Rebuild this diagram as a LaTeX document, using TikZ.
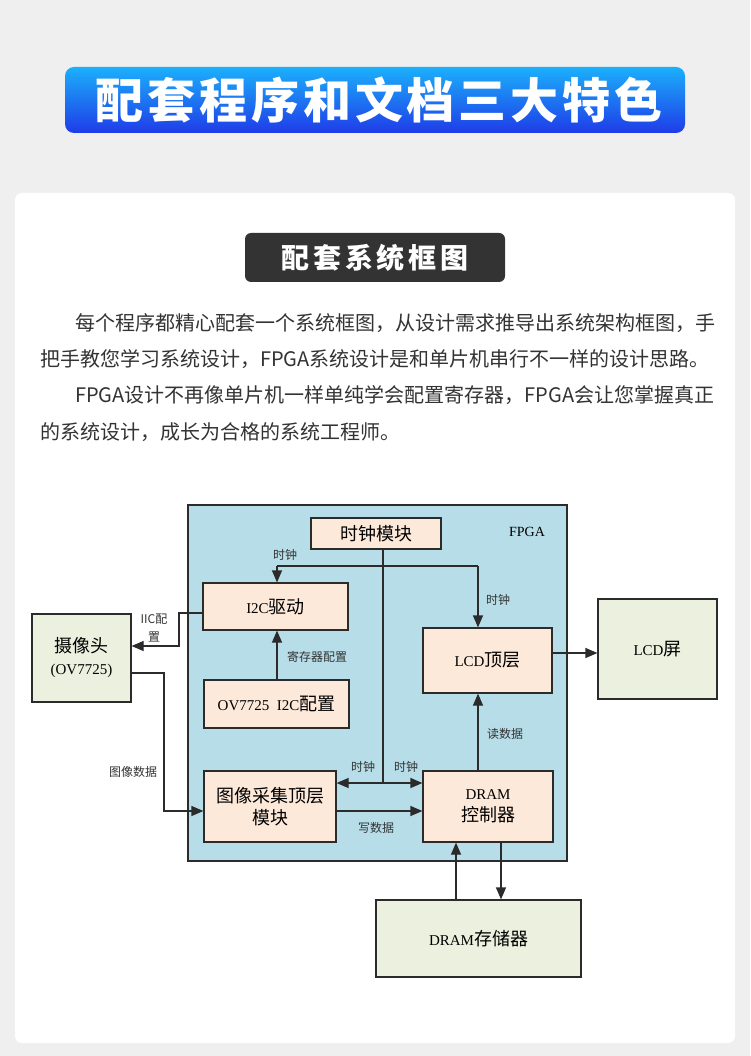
\documentclass[tikz,border=0pt]{standalone}
\usepackage{fontspec}
\setmainfont{Liberation Serif}
\newfontfamily\cjk[Scale=1.2]{Noto Sans CJK SC}
\newfontfamily\cjkbody{Noto Sans CJK SC}
\newcommand{\zh}[1]{{\cjk #1}}
\usetikzlibrary{positioning,arrows.meta}
\definecolor{pagebg}{HTML}{EFEFEF}
\definecolor{titletop}{HTML}{1BB0FB}
\definecolor{titlebot}{HTML}{1F3BE8}
\definecolor{darkbar}{HTML}{333333}
\definecolor{bodytext}{HTML}{333333}
\definecolor{fpgablue}{HTML}{B6DDE8}
\definecolor{peach}{HTML}{FDE9D9}
\definecolor{sage}{HTML}{EBF1DE}
\definecolor{linec}{HTML}{2B2B2B}

\begin{document}
\begin{tikzpicture}[x=1pt,y=-1pt,>={Triangle[length=12pt,width=10pt]},
  inner/.style={draw=linec,line width=1.2pt,fill=peach,inner sep=1pt,align=center,
    font=\fontsize{15}{22}\selectfont},
  outer/.style={inner,fill=sage},
  wire/.style={draw=linec,line width=1.2pt},
  sig/.style={wire,->},
  lbl/.style={font=\cjk\fontsize{10}{18}\selectfont,text=darkbar,align=center,inner sep=0pt},
  para/.style={anchor=west,inner sep=0pt,text=bodytext,font=\cjkbody\fontsize{20}{24}\selectfont}]

  \fill[pagebg] (0,0) rectangle (750,1056);
  \useasboundingbox (0,0) rectangle (750,1056);
  \fill[white,rounded corners=7pt] (15,193) rectangle (735,1043);

  % heading
  \node[rounded corners=9pt,top color=titletop,bottom color=titlebot,
        minimum width=620pt,minimum height=66pt] (title) at (375,100) {};
  \node[text=white,inner sep=0pt,
        font=\cjkbody\bfseries\fontsize{48}{50}\selectfont\addfontfeatures{LetterSpace=8}]
    (titletext) at (379,100) {配套程序和文档三大特色};
  \node[rounded corners=6pt,fill=darkbar,minimum width=260pt,minimum height=49pt,text=white,
        font=\cjkbody\bfseries\fontsize{28}{30}\selectfont\addfontfeatures{LetterSpace=13}]
    (sub) at (375,257.5) {配套系统框图};

  \node[para] (p1) at (75,323) {每个程序都精心配套一个系统框图，从设计需求推导出系统架构框图，手};
  \node[para] (p2) at (40,359) {把手教您学习系统设计，FPGA系统设计是和单片机串行不一样的设计思路。};
  \node[para] (p3) at (75,395) {FPGA设计不再像单片机一样单纯学会配置寄存器，FPGA会让您掌握真正};
  \node[para] (p4) at (40,432) {的系统设计，成长为合格的系统工程师。};

  % block diagram
  \node[draw=linec,line width=1.2pt,fill=fpgablue,minimum width=379pt,minimum height=356pt,
        inner sep=0pt] (fpga) at (377.5,683) {};
  \node[font=\fontsize{14}{16}\selectfont] (fpgalbl) at (527,532) {FPGA};

  \node[inner,minimum width=130pt,minimum height=31pt] (clk) at (376,533.5) {\zh{时钟模块}};
  \node[inner,minimum width=145pt,minimum height=47pt] (i2c) at (275.5,606.5) {I2C\zh{驱动}};
  \node[inner,minimum width=145pt,minimum height=48pt] (cfg) at (276.5,704) {OV7725\ \ I2C\zh{配置}};
  \node[inner,minimum width=132pt,minimum height=71pt] (cap) at (270,806.5) {\zh{图像采集顶层}\\\zh{模块}};
  \node[inner,minimum width=130pt,minimum height=71pt] (ctrl) at (488,806.5) {DRAM\\\zh{控制器}};
  \node[inner,minimum width=129pt,minimum height=65pt] (lcdtop) at (487.5,660.5) {LCD\zh{顶层}};
  \node[outer,minimum width=99pt,minimum height=88pt] (cam) at (81.5,658) {\zh{摄像头}\\(OV7725)};
  \node[outer,minimum width=119pt,minimum height=100pt] (lcd) at (657.5,649) {LCD\zh{屏}};
  \node[outer,minimum width=205pt,minimum height=77pt] (dram) at (478.5,938.5) {DRAM\zh{存储器}};

  \coordinate (ck) at (383,566);
  \coordinate (ckl) at (277,566);
  \coordinate (ckr) at (478,566);
  \coordinate (ckbus) at (383,783);
  \coordinate (wr) at (380,811);
  \coordinate (lo) at (575,653);
  \coordinate (iicA) at (179,613);
  \coordinate (iicB) at (179,646);
  \coordinate (imgA) at (164,673);
  \coordinate (imgB) at (164,811);
  \coordinate (dmu) at (456,870);
  \coordinate (dmd) at (501,870);

  \draw[wire] (clk.south -| ck) -- (ckbus);
  \draw[wire] (ckl) -- (ckr);
  \draw[sig] (ckl) -- (ckl |- i2c.north);
  \draw[sig] (ckr) -- (ckr |- lcdtop.north);
  \draw[wire,<->] (cap.east |- ckbus) -- (ctrl.west |- ckbus);
  \draw[sig] (cap.east |- wr) -- (ctrl.west |- wr);
  \draw[sig] (ctrl.north -| ckr) -- (lcdtop.south -| ckr);
  \draw[sig] (lcdtop.east |- lo) -- (lcd.west |- lo);
  \draw[sig] (cfg.north -| ckl) -- (i2c.south -| ckl);
  \draw[sig] (i2c.west |- iicA) -- (iicA) -- (iicB) -- (cam.east |- iicB);
  \draw[sig] (cam.east |- imgA) -- (imgA) -- (imgB) -- (cap.west |- imgB);
  \draw[sig] (dram.north -| dmu) -- (ctrl.south -| dmu);
  \draw[sig] (ctrl.south -| dmd) -- (dram.north -| dmd);

  \node[lbl] (lclkA) at (285,555) {时钟};
  \node[lbl] (lclkB) at (498,600) {时钟};
  \node[lbl] (liic) at (154,628) {IIC配\\置};
  \node[lbl] (lreg) at (317,657) {寄存器配置};
  \node[lbl] (limg) at (133,772) {图像数据};
  \node[lbl] (lclkC) at (363,767) {时钟};
  \node[lbl] (lclkD) at (406,767) {时钟};
  \node[lbl] (lwr) at (376,828) {写数据};
  \node[lbl] (lrd) at (505,734) {读数据};
\end{tikzpicture}
\end{document}
